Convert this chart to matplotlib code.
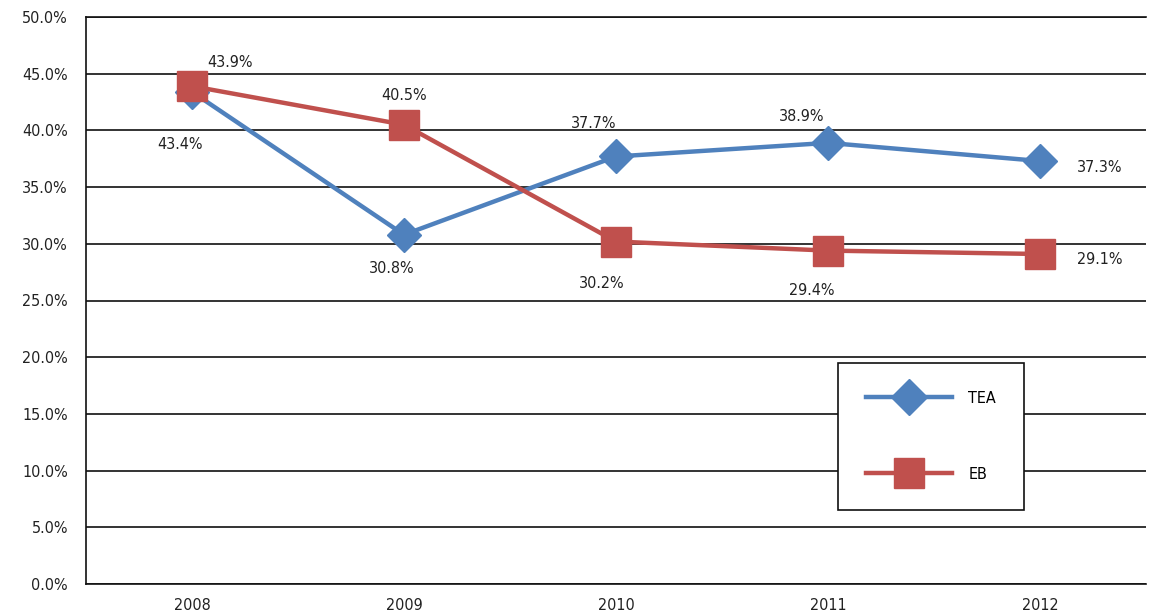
import matplotlib.pyplot as plt
from matplotlib.ticker import FuncFormatter

plt.rcParams['font.family'] = ['DejaVu Sans']
plt.rcParams['font.stretch'] = 'condensed'

years = ['2008', '2009', '2010', '2011', '2012']
tea = [43.4, 30.8, 37.7, 38.9, 37.3]
eb = [43.9, 40.5, 30.2, 29.4, 29.1]

blue = '#4F81BD'
red = '#C0504D'

fig = plt.figure(figsize=(11.5, 6.12), dpi=100)
ax = fig.add_axes([86 / 1150, 28 / 612, 1060 / 1150, 567 / 612])

x = list(range(len(years)))
ax.plot(x, tea, color=blue, lw=3.2, marker='D', markersize=17, label='TEA', zorder=3)
ax.plot(x, eb, color=red, lw=3.2, marker='s', markersize=21, label='EB', zorder=4)

ax.set_xlim(-0.5, 4.5)
ax.set_ylim(0, 50)
ax.set_yticks([i * 5 for i in range(11)])
ax.yaxis.set_major_formatter(FuncFormatter(lambda v, p: f'{v:.1f}%'))
ax.set_xticks(x)
ax.set_xticklabels(years)
ax.tick_params(axis='y', length=0, labelsize=11.5, colors='#222222', pad=13)
ax.tick_params(axis='x', length=0, labelsize=11.5, colors='#222222', pad=10)
ax.yaxis.grid(True, color='#111111', lw=1.2)
ax.set_axisbelow(True)
for s in ['left', 'bottom', 'top']:
    ax.spines[s].set_color('#111111')
    ax.spines[s].set_linewidth(1.2)
ax.spines['right'].set_visible(False)

# data labels (offsets in points)
tea_off = [(-9, -38), (-9, -24), (-16, 24), (-19, 19), (43, -5)]
eb_off = [(27, 17), (0, 21), (-10, -30), (-12, -29), (43, -4)]
for i in x:
    ax.annotate(f'{tea[i]:.1f}%', (i, tea[i]), xytext=tea_off[i], textcoords='offset points',
                ha='center', va='center', fontsize=11.5, color='#222222')
    ax.annotate(f'{eb[i]:.1f}%', (i, eb[i]), xytext=eb_off[i], textcoords='offset points',
                ha='center', va='center', fontsize=11.5, color='#222222')

leg = ax.legend(loc='upper left', bbox_to_anchor=((838 - 86) / 1060, (584 - 363) / 567),
                frameon=True, fancybox=False, fontsize=11.5, handlelength=5.4,
                labelspacing=3.8, borderpad=1.75, handletextpad=1.0, borderaxespad=0,
                framealpha=1, markerscale=1.05)
leg.get_frame().set_edgecolor('#111111')
leg.get_frame().set_linewidth(1.2)

fig.savefig('out.png', dpi=100, facecolor='white')
